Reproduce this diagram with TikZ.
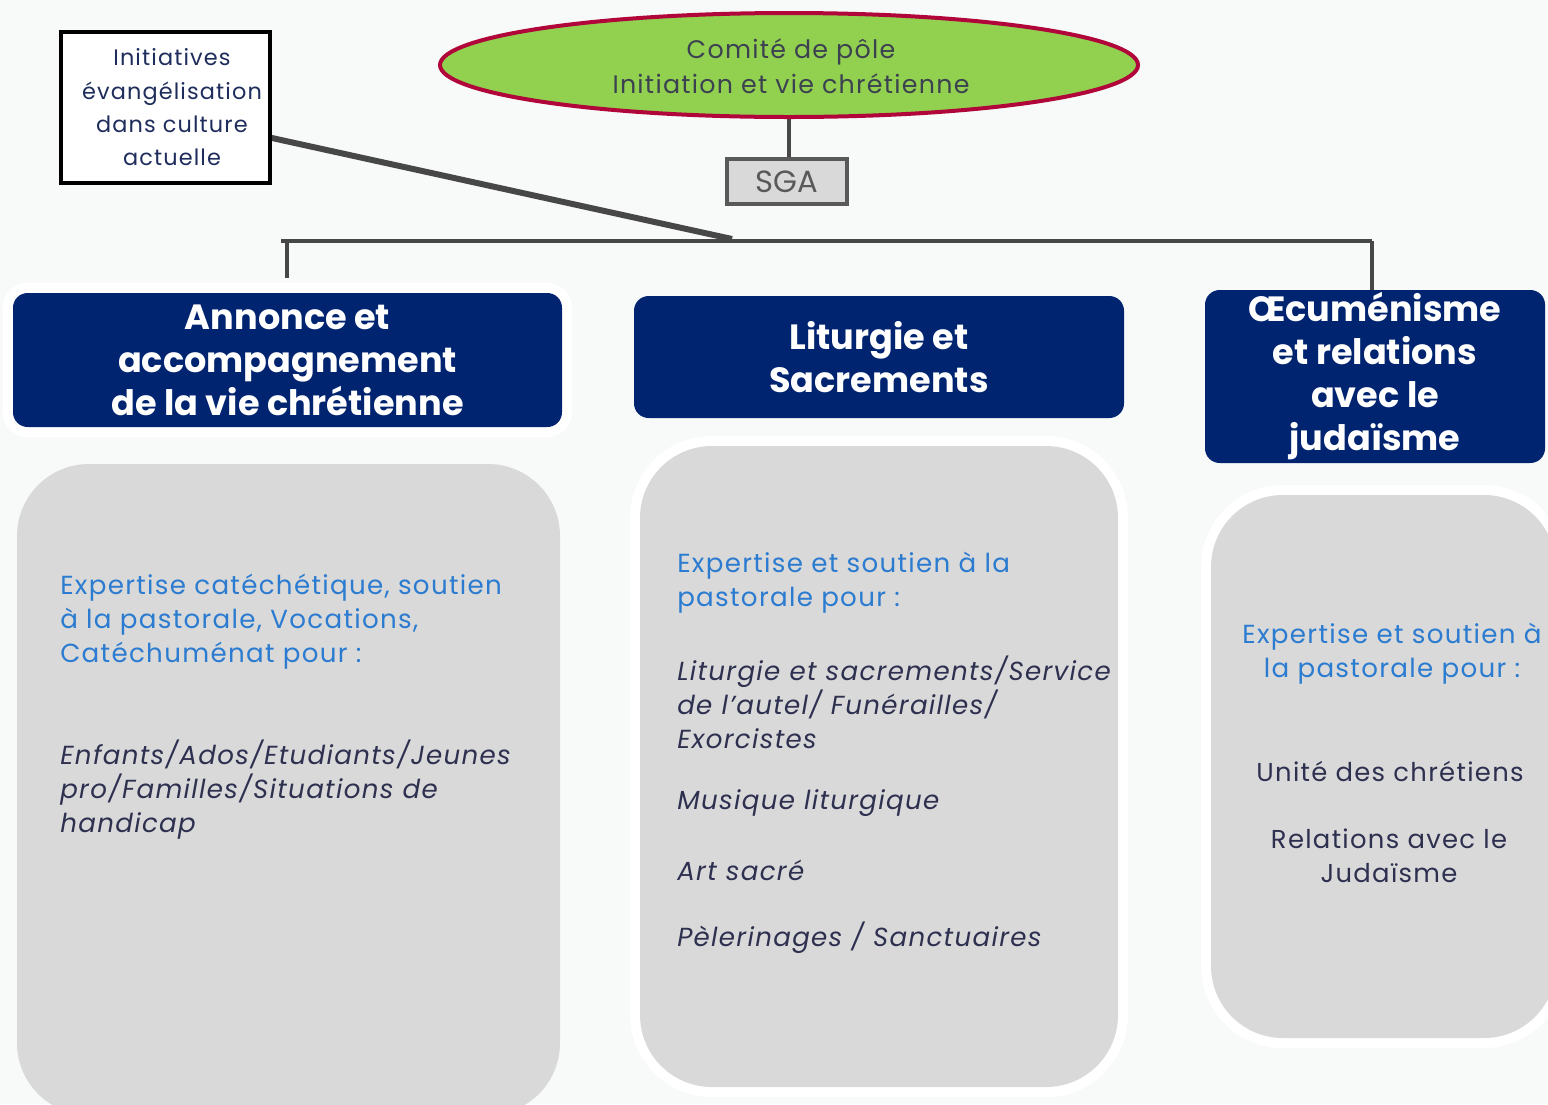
\documentclass[tikz,border=0pt]{standalone}
\usepackage{fontspec}
\setmainfont{Poppins}
\newfontfamily\widefont[LetterSpace=5]{Poppins}
\usetikzlibrary{shapes.geometric,calc,backgrounds}
\definecolor{bg}{HTML}{F8FAFA}
\definecolor{navy}{HTML}{002470}
\definecolor{boxgray}{HTML}{D9D9D9}
\definecolor{conn}{HTML}{474747}
\definecolor{leaf}{HTML}{92D050}
\definecolor{crimson}{HTML}{B0063A}
\definecolor{elltext}{HTML}{3C4150}
\definecolor{inittext}{HTML}{1F2D5C}
\definecolor{sgatext}{HTML}{595959}
\definecolor{bluetext}{HTML}{2B7BD0}
\definecolor{darktext}{HTML}{2E3050}
\tikzset{
  header/.style={fill=navy, rounded corners=11pt, inner sep=0pt, text=white,
    font=\fontsize{26.3}{32.25}\selectfont\bfseries, align=center},
  grayblock/.style={fill=boxgray, rounded corners=54pt, inner sep=0pt},
  glow/.style={preaction={draw=white, line width=15pt}},
  bluetxt/.style={text=bluetext, inner sep=0pt, font=\widefont\fontsize{19.6}{25.5}\selectfont},
  darktxt/.style={text=darktext, inner sep=0pt, font=\widefont\fontsize{19.6}{25.5}\selectfont\itshape},
  darkup/.style={text=darktext, inner sep=0pt, font=\widefont\fontsize{19.4}{25.5}\selectfont},
  link/.style={draw=conn, line width=3.5pt},
}
\begin{document}
\begin{tikzpicture}[x=0.75pt,y=-0.75pt]
\useasboundingbox (0,0) rectangle (1548,1104);

% gray content blocks
\node[grayblock, minimum width=407.25pt, minimum height=488.25pt] (gL) at (288.5,789.5) {};
\node[grayblock, glow, minimum width=358.5pt, minimum height=480.75pt] (gM) at (879,766.5) {};
\node[grayblock, glow, minimum width=258.75pt, minimum height=407.25pt] (gR) at (1383.5,766.5) {};

% headers
\node[header, glow, minimum width=411.75pt, minimum height=100.5pt] (ann) at (287.5,360)
  {Annonce et\\accompagnement\\de la vie chrétienne};
\node[header, minimum width=367.5pt, minimum height=91.5pt] (lit) at (879,357)
  {Liturgie et\\Sacrements};
\node[header, minimum width=255pt, minimum height=129.75pt] (oec) at (1375,376.5)
  {Œcuménisme\\et relations\\avec le\\judaïsme};

% top nodes
\node[ellipse, fill=leaf, draw=crimson, line width=3pt, minimum width=523.5pt, minimum height=78pt,
  inner sep=0pt] (ell) at (789,65) {};
\node[text=elltext, align=center, inner sep=0pt, font=\widefont\fontsize{19}{26}\selectfont] (ellT)
  at (791,66) {Comité de pôle\\Initiation et vie chrétienne};
\node[draw=black, line width=2.3pt, fill=white, minimum width=156.75pt, minimum height=113.25pt,
  inner sep=0pt] (init) at (165.5,107.5) {};
\node[text=inittext, align=center, inner sep=0pt, font=\widefont\fontsize{16.8}{25}\selectfont] (initT)
  at (172,107.5) {Initiatives\\évangélisation\\dans culture\\actuelle};
\node[draw=sgatext, line width=3pt, fill=boxgray, minimum width=90pt, minimum height=33.75pt,
  inner sep=0pt, text=sgatext, font=\fontsize{23}{26}\selectfont] (sga) at (787,181.5) {SGA};

% connector points
\coordinate (barL) at (281,241);
\coordinate (barR) at (1372,241);
\coordinate (barJ) at (732,239);
\coordinate (dropL) at (287,242);
\coordinate (annTop) at (287,278);

\begin{scope}[on background layer]
  \fill[bg] (0,0) rectangle (1548,1104);
  \draw[link] (ell.south) -- (ell.south |- sga.north);
  \draw[link] (barL) -- (barR);
  \draw[link] (barR) -- (barR |- oec.north);
  \draw[link] (dropL) -- (annTop);
  \draw[link, line width=4.5pt] (init.-16) -- (barJ);
\end{scope}
\draw[link] ($(sga.center)+(6,8)$) -- ($(sga.center)+(6,8)$ |- lit.north);

% texts in gray blocks
\node[bluetxt, align=left, anchor=west] (tL1) at (60,622)
  {Expertise catéchétique, soutien\\à la pastorale, Vocations,\\Catéchuménat pour :};
\node[darktxt, align=left, anchor=west] (tL2) at (60,790)
  {Enfants/Ados/Etudiants/Jeunes\\pro/Familles/Situations de\\handicap};

\node[bluetxt, align=left, anchor=west] (tM1) at (677,582.5)
  {Expertise et soutien à la\\pastorale pour :};
\node[darktxt, align=left, anchor=west] (tM2) at (677,702)
  {Liturgie et sacrements/Service\\de l’autel/ Funérailles/\\Exorcistes};
\node[darktxt, anchor=west] (tM3) at (677,803) {Musique liturgique};
\node[darktxt, anchor=west] (tM4) at (677,870) {Art sacré};
\node[darktxt, anchor=west] (tM5) at (677,938) {Pèlerinages / Sanctuaires};

\node[bluetxt, align=center] (tR1) at (1392,653.5)
  {Expertise et soutien à\\la pastorale pour :};
\node[darkup] (tR2) at (1390,771) {Unité des chrétiens};
\node[darkup, align=center] (tR3) at (1389,856) {Relations avec le\\Judaïsme};
\end{tikzpicture}
\end{document}
